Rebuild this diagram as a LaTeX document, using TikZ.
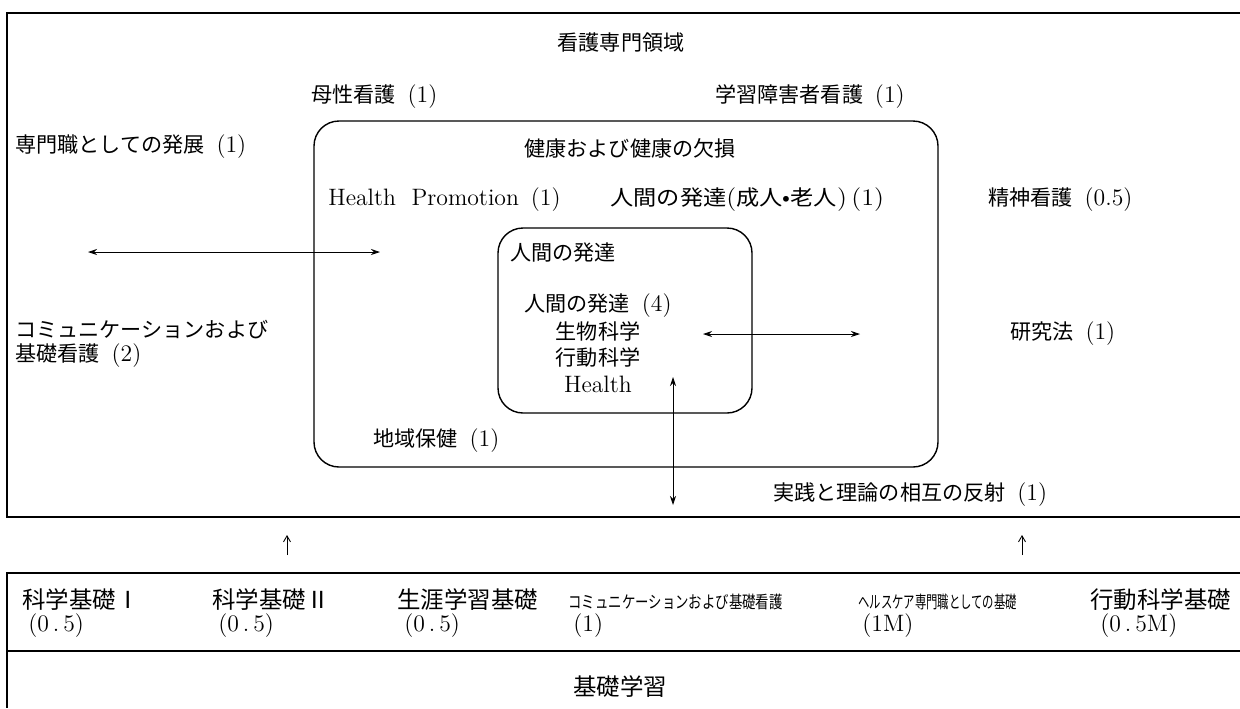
\documentclass[tikz,border=0pt]{standalone}
\usepackage{fontspec}
\usepackage{graphicx}
\newfontfamily\cjk{Noto Sans CJK JP}[Scale=0.89]
\usetikzlibrary{arrows.meta}
\newcommand\J[1]{{\cjk #1}}
\newcommand\JB[1]{{\fontsize{15}{17}\selectfont\cjk #1}}
\newcommand\JS[1]{{\fontsize{11}{13}\selectfont\cjk #1}}
\tikzset{
  lbl/.style={inner sep=0pt, font=\fontsize{13.5}{16}\selectfont},
  frame/.style={line width=0.8pt},
  rbox/.style={line width=0.8pt, rounded corners=0.5cm},
  dbl/.style={line width=0.5pt, {Stealth[length=1.8mm,width=1.2mm]}-{Stealth[length=1.8mm,width=1.2mm]}},
  up/.style={line width=0.5pt, -{Straight Barb[length=1.2mm,width=1.4mm]}}
}
\begin{document}
\begin{tikzpicture}[x=0.02cm,y=-0.02cm]
\useasboundingbox (0,0) rectangle (1240,708);
% outer frames
\draw[frame] (1240,13) -- (7,13) -- (7,517) -- (1240,517);
\draw[frame] (1240,573) -- (7,573) -- (7,708);
\draw[frame] (7,651) -- (1240,651);
% rounded boxes
\draw[rbox] (314,121) rectangle (938,467);
\draw[rbox] (498,228) rectangle (752,413);
% top labels
\node[lbl] (title) at (621,42) {\J{看護専門領域}};
\node[lbl,anchor=west] (bosei) at (311,97) {\J{母性看護}\enspace(1)};
\node[lbl,anchor=west] (gakushu) at (715,97) {\J{学習障害者看護}\enspace(1)};
\node[lbl,anchor=west] (senmon) at (15,147) {\J{専門職としての発展}\enspace(1)};
\node[lbl] (kenko) at (630,148) {\J{健康および健康の欠損}};
\node[lbl,anchor=west] (hp) at (328,200) {Health\ \ Promotion\enspace(1)};
\node[lbl,anchor=west] (seijin) at (610,200) {\scalebox{1.1}[1]{\J{人間の発達}(\J{成人•老人})\,(1)}};
\node[lbl,anchor=west] (seishin) at (988,200) {\J{精神看護}\enspace(0.5)};
\node[lbl,anchor=west] (ningen) at (510,253) {\J{人間の発達}};
\node[lbl] (n4) at (598,306) {\J{人間の発達}\enspace(4)};
\node[lbl] (seibutsu) at (598,331) {\J{生物科学}};
\node[lbl] (kodo) at (598,357) {\J{行動科学}};
\node[lbl] (health) at (598,384) {Health};
\node[lbl,anchor=west] (comm1) at (15,330) {\J{コミュニケーションおよび}};
\node[lbl,anchor=west] (comm2) at (15,356) {\J{基礎看護}\enspace(2)};
\node[lbl,anchor=west] (kenkyu) at (1010,334) {\J{研究法}\enspace(1)};
\node[lbl,anchor=west] (chiiki) at (373,441) {\J{地域保健}\enspace(1)};
\node[lbl,anchor=west] (jissen) at (773,495) {\J{実践と理論の相互の反射}\enspace(1)};
% arrows
\coordinate (a1) at (88,252);
\coordinate (a2) at (380,252);
\draw[dbl] (a1) -- (a2);
\coordinate (b1) at (703,334);
\coordinate (b2) at (860,334);
\draw[dbl] (b1) -- (b2);
\coordinate (c1) at (673,377);
\coordinate (c2) at (673,505);
\draw[dbl] (c1) -- (c2);
\coordinate (u1) at (287,555);
\coordinate (u2) at (287,535);
\draw[up] (u1) -- (u2);
\coordinate (v1) at (1022,555);
\coordinate (v2) at (1022,535);
\draw[up] (v1) -- (v2);
% bottom row
\node[lbl,anchor=west] (k1) at (22,600) {\JB{科学基礎Ⅰ}};
\node[lbl,anchor=west] (k1n) at (28,626) {(0\,.\,5)};
\node[lbl,anchor=west] (k2) at (212,600) {\JB{科学基礎Ⅱ}};
\node[lbl,anchor=west] (k2n) at (218,626) {(0\,.\,5)};
\node[lbl,anchor=west] (k3) at (397,600) {\JB{生涯学習基礎}};
\node[lbl,anchor=west] (k3n) at (404,626) {(0\,.\,5)};
\node[lbl,anchor=west] (k4) at (568,602) {\scalebox{0.78}[1]{\JS{コミュニケーションおよび基礎看護}}};
\node[lbl,anchor=west] (k4n) at (573,626) {(1)};
\node[lbl,anchor=west] (k5) at (858,602) {\scalebox{0.66}[1]{\JS{ヘルスケア専門職としての基礎}}};
\node[lbl,anchor=west] (k5n) at (862,626) {(1M)};
\node[lbl,anchor=west] (k6) at (1090,600) {\JB{行動科学基礎}};
\node[lbl,anchor=west] (k6n) at (1100,626) {(0\,.\,5M)};
\node[lbl] (kiso) at (620,687) {\JB{基礎学習}};
\end{tikzpicture}
\end{document}
